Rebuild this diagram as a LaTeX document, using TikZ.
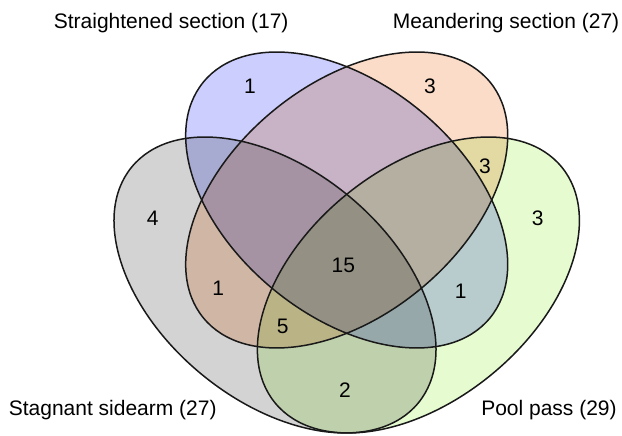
\documentclass[tikz,border=0pt]{standalone}
\usepackage{fontspec}
\setmainfont{Liberation Sans}
\definecolor{cgray}{RGB}{211,211,211}
\definecolor{cblue}{RGB}{204,207,253}
\definecolor{corange}{RGB}{251,220,200}
\definecolor{cgreen}{RGB}{230,252,208}
\begin{document}
\begin{tikzpicture}[x=1pt,y=1pt,
  setfill/.style={fill=#1, blend mode=multiply},
  outline/.style={draw=black!90, line width=1.5pt},
  lbl/.style={font=\fontsize{21}{25}\selectfont, inner sep=0pt, anchor=base},
  num/.style={font=\fontsize{21}{25}\selectfont, inner sep=0pt}]
\useasboundingbox (0,0) rectangle (622,436);
\fill[white] (0,0) rectangle (622,436);
% fills
\path[setfill=cgray, rotate around={-39.5:(275,151)}] (275,151) ellipse [x radius=185.6pt, y radius=115.6pt];
\path[setfill=cblue, rotate around={-39.5:(346.7,236)}] (346.7,236) ellipse [x radius=185.6pt, y radius=115.6pt];
\path[setfill=corange, rotate around={39.5:(346.7,236)}] (346.7,236) ellipse [x radius=185.6pt, y radius=115.6pt];
\path[setfill=cgreen, rotate around={39.5:(418.4,151)}] (418.4,151) ellipse [x radius=185.6pt, y radius=115.6pt];
% outlines
\draw[outline, rotate around={-39.5:(275,151)}] (275,151) ellipse [x radius=185.6pt, y radius=115.6pt];
\draw[outline, rotate around={-39.5:(346.7,236)}] (346.7,236) ellipse [x radius=185.6pt, y radius=115.6pt];
\draw[outline, rotate around={39.5:(346.7,236)}] (346.7,236) ellipse [x radius=185.6pt, y radius=115.6pt];
\draw[outline, rotate around={39.5:(418.4,151)}] (418.4,151) ellipse [x radius=185.6pt, y radius=115.6pt];
% labels
\node[lbl] (lS) at (171.2,407.7) {Straightened section (17)};
\node[lbl] (lM) at (506,407.7) {Meandering section (27)};
\node[lbl] (lG) at (112.7,20.5) {Stagnant sidearm (27)};
\node[lbl] (lP) at (549,20.5) {Pool pass (29)};
% numbers
\node[num] (nB) at (250,349.3) {1};
\node[num] (nO) at (430,349.3) {3};
\node[num] (nOG) at (485,270) {3};
\node[num] (nG) at (152.7,217.7) {4};
\node[num] (nP) at (537.7,217.7) {3};
\node[num] (nAll) at (343.3,171) {15};
\node[num] (nGO) at (218.3,147.7) {1};
\node[num] (nBP) at (460.7,144.3) {1};
\node[num] (nGOP) at (282.7,110) {5};
\node[num] (nGP) at (345,46) {2};
\end{tikzpicture}
\end{document}
